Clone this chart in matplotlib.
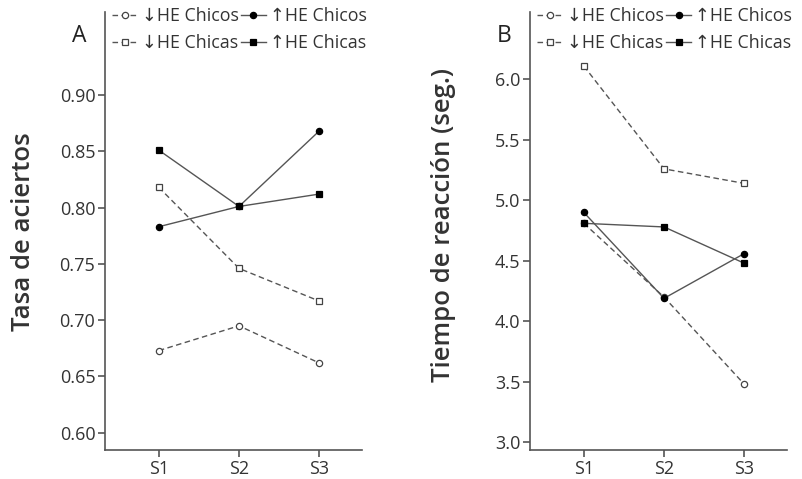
import matplotlib.pyplot as plt

plt.rcParams['font.family'] = ['Open Sans', 'DejaVu Sans']

sessions = ['S1', 'S2', 'S3']
series_labels = ['\u2193HE Chicos', '\u2193HE Chicas', '\u2191HE Chicos', '\u2191HE Chicas']

# Panel A: tasa de aciertos
acc_low_boys = [0.673, 0.695, 0.662]
acc_low_girls = [0.818, 0.746, 0.717]
acc_high_boys = [0.783, 0.801, 0.868]
acc_high_girls = [0.851, 0.801, 0.812]

# Panel B: tiempo de reaccion
rt_low_boys = [4.81, 4.20, 3.48]
rt_low_girls = [6.11, 5.26, 5.14]
rt_high_boys = [4.90, 4.19, 4.56]
rt_high_girls = [4.81, 4.78, 4.48]

line_col = '#555555'
styles = [
    dict(ls=(0, (4, 2.5)), marker='o', mfc='white', mec='#444444', ms=4.5),
    dict(ls=(0, (4, 2.5)), marker='s', mfc='white', mec='#444444', ms=4.5),
    dict(ls='-', marker='o', mfc='black', mec='black', ms=4.5),
    dict(ls='-', marker='s', mfc='black', mec='black', ms=4.5),
]

fig = plt.figure(figsize=(8.02, 4.79), dpi=100)
ax_a = fig.add_axes([0.131, 0.0605, 0.320, 0.914])
ax_b = fig.add_axes([0.661, 0.0605, 0.320, 0.914])


def draw_panel(ax, data, ylim, yticks, fmt, ylabel, label_xy, letter):
    for vals, lab, st in zip(data, series_labels, styles):
        ax.plot(range(3), vals, color=line_col, lw=1.0, mew=0.9, label=lab, **st)
    ax.set_xlim(-0.67, 2.53)
    ax.set_ylim(*ylim)
    ax.set_xticks(range(3), sessions)
    ax.set_yticks(yticks, [fmt.format(v) for v in yticks])
    for s in ['top', 'right']:
        ax.spines[s].set_visible(False)
    for s in ['left', 'bottom']:
        ax.spines[s].set_color('#555555')
        ax.spines[s].set_linewidth(1.2)
    ax.tick_params(direction='out', length=5, width=1.2, color='#555555',
                   labelsize=13, labelcolor='#333333', pad=2)
    ax.set_ylabel(ylabel, fontsize=18.5, color='#333333', fontweight='semibold')
    ax.yaxis.set_label_coords(*label_xy)
    ax.text(-0.101, 0.945, letter, transform=ax.transAxes, fontsize=16.5,
            color='#222222', ha='center', va='center')
    ax.legend(loc='upper left', bbox_to_anchor=(0.0, 1.028), ncol=2, frameon=False,
              fontsize=12.8, handlelength=1.4, handletextpad=0.25, columnspacing=0.15,
              labelspacing=0.5, borderaxespad=0.0, labelcolor='#333333')


draw_panel(ax_a, [acc_low_boys, acc_low_girls, acc_high_boys, acc_high_girls],
           (0.5847, 0.9735), [0.60, 0.65, 0.70, 0.75, 0.80, 0.85, 0.90], '{:.2f}',
           'Tasa de aciertos', (-0.268, 0.498), 'A')
draw_panel(ax_b, [rt_low_boys, rt_low_girls, rt_high_boys, rt_high_girls],
           (2.936, 6.555), [3.0, 3.5, 4.0, 4.5, 5.0, 5.5, 6.0], '{:.1f}',
           'Tiempo de reacción (seg.)', (-0.288, 0.514), 'B')

fig.savefig('out.png', dpi=100)
